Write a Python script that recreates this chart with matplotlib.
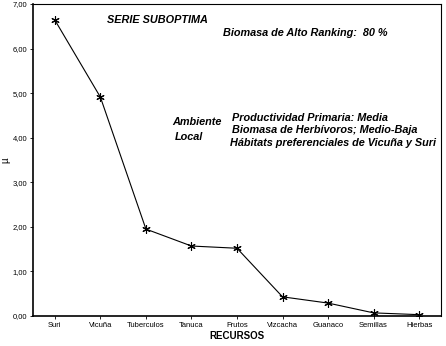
import matplotlib.pyplot as plt
from matplotlib.ticker import FuncFormatter

recursos = ['Suri', 'Vicuña', 'Tuberculos', 'Tanuca', 'Frutos',
            'Vizcacha', 'Guanaco', 'Semillas', 'Hierbas']
mu = [6.64, 4.91, 1.95, 1.57, 1.52, 0.43, 0.29, 0.07, 0.03]

fam = ['Liberation Sans Narrow', 'Liberation Sans', 'DejaVu Sans']
plt.rcParams['font.family'] = fam

fig = plt.figure(figsize=(4.46, 3.46), dpi=100)
ax = fig.add_axes([33 / 446, 1 - 316 / 346, 408 / 446, 312 / 346])

xs = range(len(recursos))
ax.plot(xs, mu, color='black', lw=0.8, marker=(6, 2, 0), ms=6, mew=0.8)

ax.set_xlim(-0.48, len(recursos) - 0.52)
ax.set_ylim(0, 7)
ax.set_yticks(range(8))
ax.yaxis.set_major_formatter(FuncFormatter(lambda v, p: f'{v:.2f}'.replace('.', ',')))
ax.set_xticks(list(xs))
ax.set_xticklabels(recursos)
ax.tick_params(labelsize=5.5, length=2, width=0.6, pad=2)
for s in ax.spines.values():
    s.set_linewidth(0.8)
ax.spines['left'].set_linewidth(1.2)
ax.spines['bottom'].set_linewidth(1.2)

ax.set_xlabel('RECURSOS', fontsize=7, fontweight='bold', family=['Liberation Sans', 'DejaVu Sans'], labelpad=2)
ax.set_ylabel('µ', fontsize=7)
ax.yaxis.set_label_coords(-23 / 408, 0.5)

tkw = dict(fontsize=7.8, fontstyle='italic', fontweight='bold', transform=ax.transData,
           va='center', ha='left')
ax.text(1.15, 6.64, 'SERIE SUBOPTIMA', **tkw)
ax.text(3.70, 6.35, 'Biomasa de Alto Ranking:  80 %', **tkw)
ax.text(2.57, 4.35, 'Ambiente', **tkw)
ax.text(2.64, 4.02, 'Local', **tkw)
ax.text(3.89, 4.44, 'Productividad Primaria: Media', **tkw)
ax.text(3.89, 4.17, 'Biomasa de Herbívoros; Medio-Baja', **tkw)
ax.text(3.85, 3.88, 'Hábitats preferenciales de Vicuña y Suri', **tkw)

fig.savefig('out.png', dpi=100)
